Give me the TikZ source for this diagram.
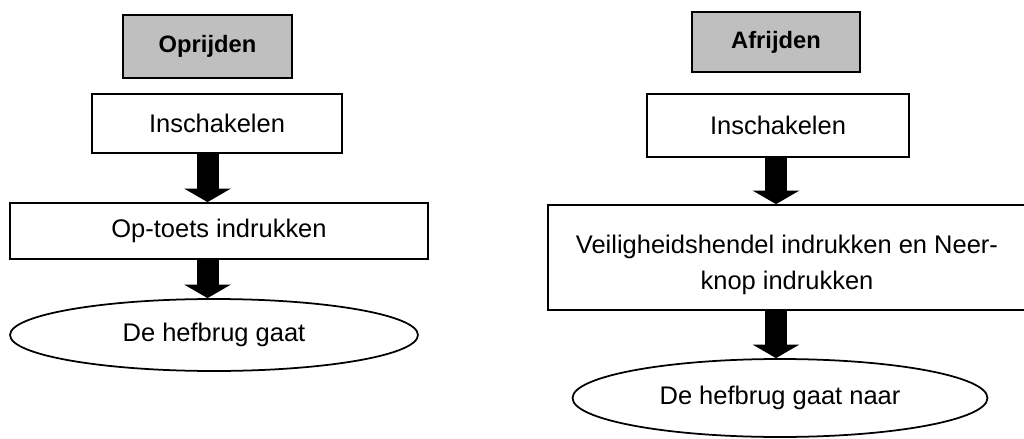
\documentclass[tikz,border=0pt]{standalone}
\usepackage{fontspec}
\setmainfont{Liberation Sans}
\usepackage{tikz}
\usetikzlibrary{positioning, calc}
\usetikzlibrary{shapes.geometric, arrows.meta}
\tikzset{
    box/.style = {draw, line width=1pt, rectangle, inner sep=2pt, font=\fontsize{14.5}{20}\selectfont},
    kop/.style = {box, fill=black!25, font=\fontsize{13.5}{20}\selectfont\bfseries},
    eind/.style = {draw, line width=1pt, ellipse, inner sep=0pt, font=\fontsize{14.5}{20}\selectfont},
    pijl/.style = {line width=0.44cm, -{Triangle[length=0.27cm, width=0.92cm]}}
}

\begin{document}
\begin{tikzpicture}[x=0.02cm, y=0.02cm]
                \useasboundingbox (0,0) rectangle (1024,-439);
                \node[kop, minimum width=3.38cm, minimum height=1.26cm] (oprijden) at (207.5,-46.5) {Oprijden};
                \node[box, minimum width=5cm, minimum height=1.18cm] (inschL) at (217,-123.5) {Inschakelen};
                \node[box, minimum width=8.36cm, minimum height=1.12cm] (optoets) at (219,-231) {Op-toets indrukken};
                \node[eind, minimum width=8.16cm, minimum height=1.44cm] (eindL) at (214,-335) {De hefbrug gaat};
                \draw[pijl] (inschL.south -| oprijden.south) -- (optoets.north -| oprijden.south);
                \draw[pijl] (optoets.south -| oprijden.south) -- (eindL.north -| oprijden.south);

                \node[kop, minimum width=3.36cm, minimum height=1.2cm] (afrijden) at (776,-42) {Afrijden};
                \node[box, minimum width=5.24cm, minimum height=1.26cm] (inschR) at (778,-125.5) {Inschakelen};
                \node[box, minimum width=9.56cm, minimum height=2.1cm, align=center] (veilig) at (787,-257.5) {\rule{0pt}{19pt}Veiligheidshendel indrukken en Neer-\\knop indrukken};
                \node[eind, minimum width=8.3cm, minimum height=1.56cm] (eindR) at (780,-398) {De hefbrug gaat naar};
                \draw[pijl] (inschR.south -| afrijden.south) -- (veilig.north -| afrijden.south);
                \draw[pijl] (veilig.south -| afrijden.south) -- (eindR.north -| afrijden.south);
\end{tikzpicture}
\end{document}
